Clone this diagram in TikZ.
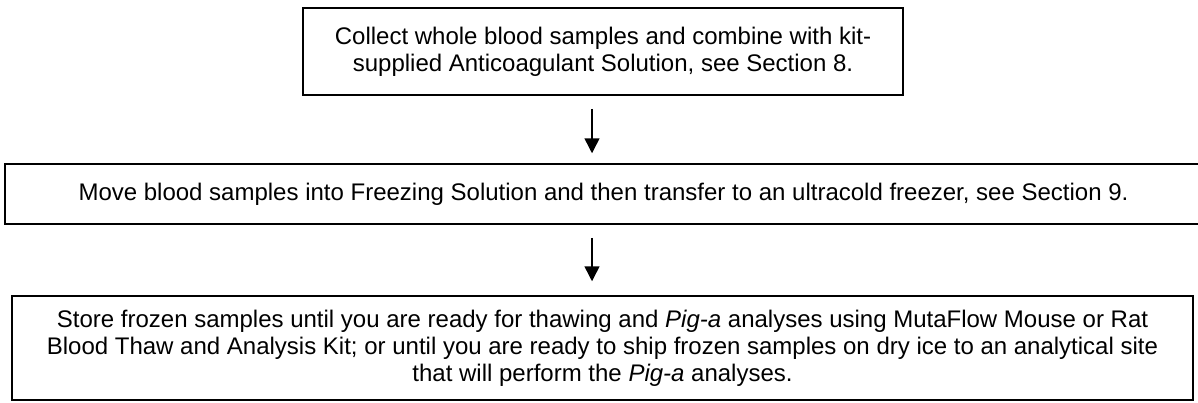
\documentclass[tikz,border=0pt]{standalone}
\usepackage{fontspec}
\setmainfont{Liberation Sans}
\usetikzlibrary{arrows.meta}
\tikzset{
  stepbox/.style={draw=black, line width=1.5pt, align=center, inner sep=0pt,
    font=\fontsize{24}{27}\selectfont},
  flowarrow/.style={line width=1.5pt, -{Triangle[width=15pt,length=15pt]}}
}
\begin{document}
\begin{tikzpicture}[x=1pt,y=-1pt]
\useasboundingbox (0,0) rectangle (1198,402);
\node[stepbox, minimum width=600pt, minimum height=87pt] (b1) at (603,51.5)
  {Collect whole blood samples and combine with kit-\\supplied Anticoagulant Solution, see Section 8.};
\node[stepbox, minimum width=1197pt, minimum height=60pt] (b2) at (603.5,194)
  {Move blood samples into Freezing Solution and then transfer to an ultracold freezer, see Section 9.};
\node[stepbox, minimum width=1181pt, minimum height=104pt] (b3) at (602.5,348)
  {Store frozen samples until you are ready for thawing and \textit{Pig-a} analyses using MutaFlow Mouse or Rat\\
   Blood Thaw and Analysis Kit; or until you are ready to ship frozen samples on dry ice to an analytical site\\
   that will perform the \textit{Pig-a} analyses.};
\coordinate (ax) at (592,0);
\draw[flowarrow, shorten <=13pt, shorten >=10pt] (b1.south -| ax) -- (b2.north -| ax);
\draw[flowarrow, shorten <=13pt, shorten >=14pt] (b2.south -| ax) -- (b3.north -| ax);
\end{tikzpicture}
\end{document}
